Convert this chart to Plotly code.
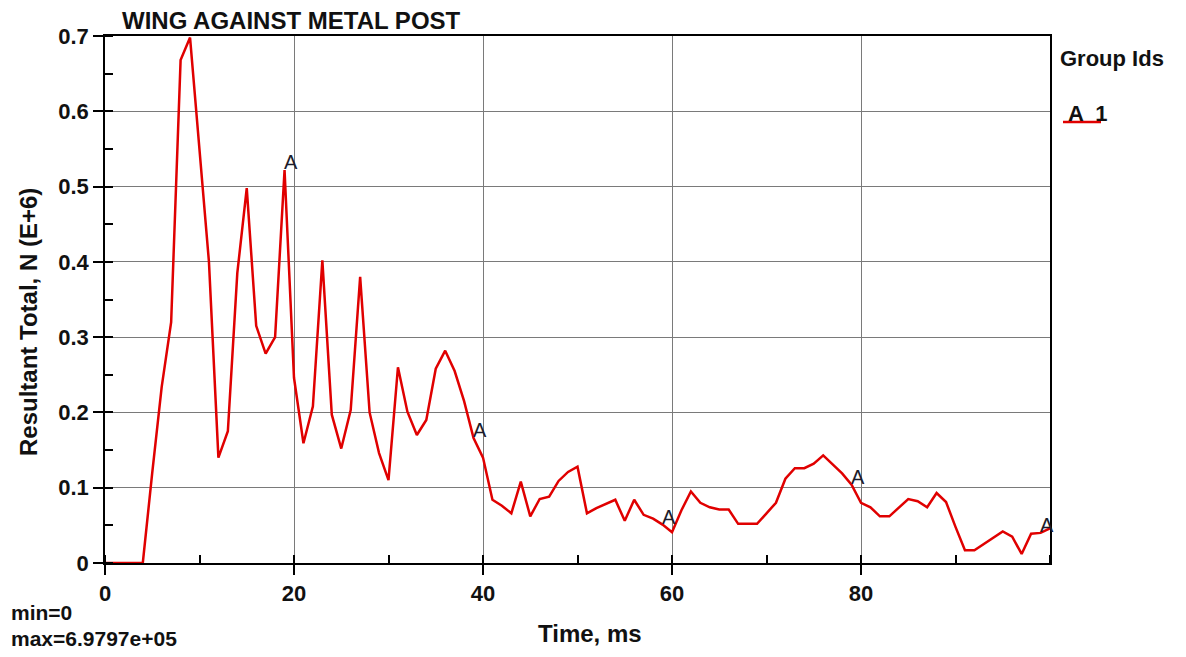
import plotly.graph_objects as go

# ---- data ----
time_ms = list(range(0, 101))
resultant = [
    0, 0, 0, 0, 0, 0.12, 0.234, 0.32, 0.668, 0.69797,
    0.55, 0.40, 0.14, 0.175, 0.385, 0.498, 0.315, 0.278, 0.30, 0.522,
    0.246, 0.159, 0.208, 0.402, 0.197, 0.152, 0.203, 0.380, 0.200, 0.146,
    0.110, 0.260, 0.201, 0.170, 0.190, 0.258, 0.282, 0.255, 0.215, 0.166,
    0.140, 0.084, 0.076, 0.066, 0.108, 0.062, 0.085, 0.088, 0.109, 0.121,
    0.128, 0.066, 0.073, 0.079, 0.084, 0.056, 0.084, 0.064, 0.059, 0.051,
    0.041, 0.070, 0.095, 0.080, 0.074, 0.071, 0.071, 0.052, 0.052, 0.052,
    0.066, 0.080, 0.112, 0.126, 0.126, 0.132, 0.143, 0.131, 0.119, 0.104,
    0.080, 0.074, 0.062, 0.062, 0.074, 0.085, 0.082, 0.074, 0.093, 0.081,
    0.048, 0.017, 0.017, 0.025, 0.034, 0.042, 0.035, 0.012, 0.039, 0.040,
    0.046,
]
marker_times = [19, 39, 59, 79, 99]
x_ticks = [0, 20, 40, 60, 80]
x_tick_labels = ["0", "20", "40", "60", "80"]
y_ticks = [0, 0.1, 0.2, 0.3, 0.4, 0.5, 0.6, 0.7]
y_tick_labels = ["0", "0.1", "0.2", "0.3", "0.4", "0.5", "0.6", "0.7"]
title_text = "WING AGAINST METAL POST"
group_label = "Group Ids"
series_id = "A"
series_num = "1"

FONT = "Liberation Sans, Arial, sans-serif"
TXT = "#111111"
RED = "#e00000"

OFF = 8  # default page body margin
W, H = 1186 - OFF, 657 - OFF
ML, MR, MT, MB = 105 - OFF, 136, 36 - OFF, 94
PW = W - ML - MR
PH = H - MT - MB

def px_x(p):
    return (p - OFF - ML) / PW

def px_y(p):
    return 1 - (p - OFF - MT) / PH

fig = go.Figure()
fig.add_trace(go.Scatter(
    x=time_ms, y=resultant, mode="lines",
    line=dict(color=RED, width=2.5),
    showlegend=False, hoverinfo="x+y",
))

annotations = []
for t in marker_times:
    v = resultant[time_ms.index(t)]
    annotations.append(dict(
        x=t, y=v, xref="x", yref="y", text=series_id, showarrow=False,
        xanchor="left", yanchor="bottom", yshift=-5, xshift=-3,
        font=dict(family=FONT, size=20, color="#1c1c2c"),
    ))

annotations += [
    dict(x=px_x(120), y=px_y(20), xref="paper", yref="paper", text=title_text,
         showarrow=False, xanchor="left", yanchor="middle",
         font=dict(family=FONT, size=24, color=TXT, weight="bold")),
    dict(x=px_x(28), y=px_y(322), xref="paper", yref="paper",
         text="Resultant Total, N (E+6)", textangle=-90, showarrow=False,
         xanchor="center", yanchor="middle",
         font=dict(family=FONT, size=24, color=TXT, weight="bold")),
    dict(x=px_x(590), y=px_y(633), xref="paper", yref="paper", text="Time, ms",
         showarrow=False, xanchor="center", yanchor="middle",
         font=dict(family=FONT, size=24, color=TXT, weight="bold")),
    dict(x=px_x(9), y=px_y(612), xref="paper", yref="paper", text="min=0",
         showarrow=False, xanchor="left", yanchor="middle",
         font=dict(family=FONT, size=21, color=TXT, weight="bold")),
    dict(x=px_x(9), y=px_y(638), xref="paper", yref="paper",
         text="max=6.9797e+05",
         showarrow=False, xanchor="left", yanchor="middle",
         font=dict(family=FONT, size=21, color=TXT, weight="bold")),
    dict(x=px_x(1058), y=px_y(58), xref="paper", yref="paper", text=group_label,
         showarrow=False, xanchor="left", yanchor="middle",
         font=dict(family=FONT, size=22, color=TXT, weight="bold")),
    dict(x=px_x(1066), y=px_y(113), xref="paper", yref="paper",
         text=series_id + "  " + series_num,
         showarrow=False, xanchor="left", yanchor="middle",
         font=dict(family=FONT, size=22, color=TXT, weight="bold")),
]

shapes = [dict(type="line", xref="paper", yref="paper",
               x0=px_x(1063), x1=px_x(1101), y0=px_y(122), y1=px_y(122),
               line=dict(color=RED, width=2.5))]

axis_common = dict(
    showline=True, linecolor="#000000", linewidth=1.5, mirror=True,
    showgrid=True, gridcolor="#7a7a7a", gridwidth=1,
    zeroline=False, ticks="outside", ticklen=10, tickcolor="#000000",
    tickwidth=1.5,
    tickfont=dict(family=FONT, size=22, color=TXT, weight="bold"),
)

fig.update_layout(
    width=W, height=H,
    margin=dict(l=ML, r=MR, t=MT, b=MB, pad=0),
    paper_bgcolor="white", plot_bgcolor="white",
    xaxis=dict(range=[0, 100], tickvals=x_ticks, ticktext=x_tick_labels,
               minor=dict(ticks="inside", ticklen=8, dtick=10, tick0=0,
                          tickcolor="#000000", showgrid=False),
               **axis_common),
    yaxis=dict(range=[0, 0.7], tickvals=y_ticks, ticktext=y_tick_labels,
               minor=dict(ticks="inside", ticklen=8, dtick=0.05, tick0=0,
                          tickcolor="#000000", showgrid=False),
               **axis_common),
    annotations=annotations, shapes=shapes,
    showlegend=False,
)

fig.write_html("out.html")
